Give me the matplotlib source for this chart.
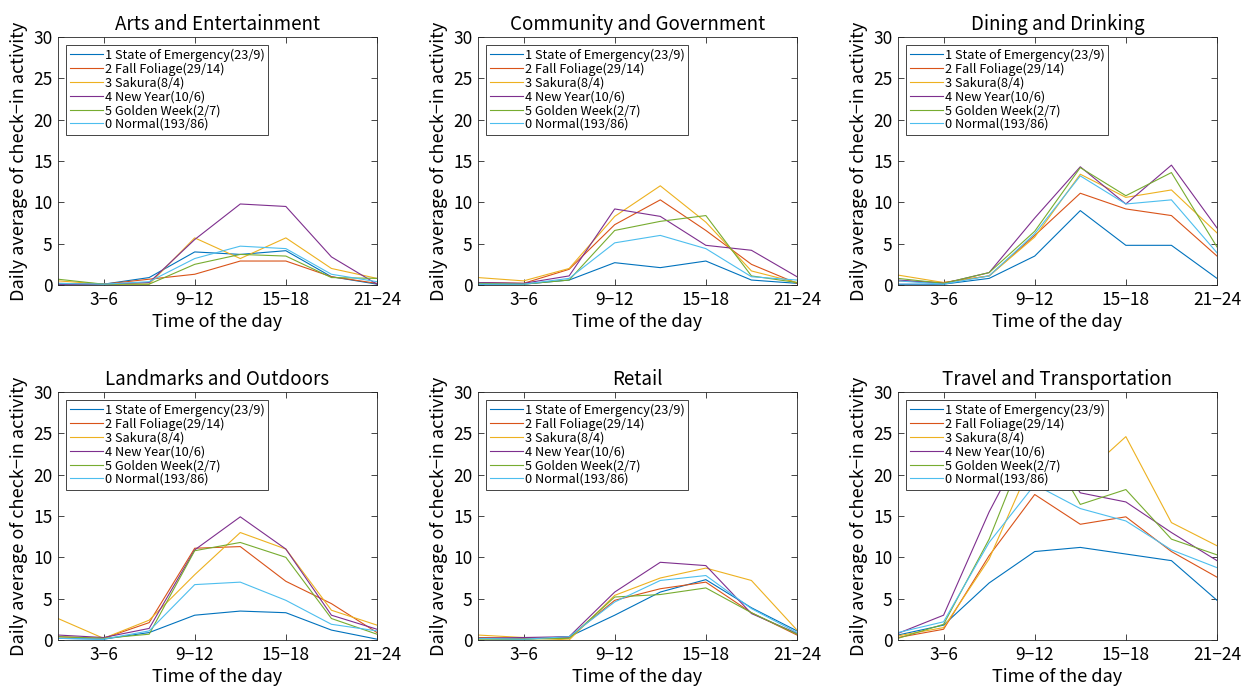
import matplotlib
matplotlib.use("Agg")
import matplotlib.pyplot as plt

plt.rcParams['font.family'] = ['Noto Sans CJK JP', 'DejaVu Sans']

titles = ["Arts and Entertainment", "Community and Government", "Dining and Drinking",
          "Landmarks and Outdoors", "Retail", "Travel and Transportation"]
series_labels = ["1 State of Emergency(23/9)", "2 Fall Foliage(29/14)", "3 Sakura(8/4)",
                 "4 New Year(10/6)", "5 Golden Week(2/7)", "0 Normal(193/86)"]
time_slots = [1, 2, 3, 4, 5, 6, 7, 8]
tick_positions = [2, 4, 6, 8]
tick_labels = ["3\u22126", "9\u221212", "15\u221218", "21\u221224"]

arts = [
    [0.1, 0.1, 0.9, 4.0, 3.7, 4.15, 1.0, 0.1],
    [0.2, 0.1, 0.7, 1.3, 2.9, 2.9, 1.0, 0.2],
    [0.5, 0.1, 0.1, 5.7, 3.2, 5.7, 2.0, 0.8],
    [0.1, 0.1, 0.3, 5.5, 9.8, 9.5, 3.4, 0.1],
    [0.7, 0.1, 0.1, 2.5, 3.7, 3.5, 0.9, 0.8],
    [0.2, 0.1, 0.4, 3.2, 4.7, 4.4, 1.3, 0.4],
]
community = [
    [0.1, 0.1, 0.6, 2.7, 2.1, 2.9, 0.6, 0.2],
    [0.3, 0.2, 1.9, 7.3, 10.3, 6.6, 2.5, 0.2],
    [0.9, 0.5, 2.0, 8.3, 12.0, 7.6, 1.7, 0.3],
    [0.3, 0.2, 1.1, 9.2, 8.3, 4.8, 4.2, 1.0],
    [0.2, 0.1, 0.6, 6.6, 7.7, 8.4, 1.1, 0.3],
    [0.1, 0.1, 0.8, 5.1, 6.0, 4.4, 1.0, 0.6],
]
dining = [
    [0.1, 0.1, 0.8, 3.5, 9.0, 4.8, 4.8, 0.8],
    [0.5, 0.3, 1.1, 6.0, 11.1, 9.2, 8.4, 3.5],
    [1.2, 0.3, 1.1, 5.8, 13.4, 10.6, 11.5, 6.3],
    [0.6, 0.2, 1.5, 8.1, 14.3, 9.8, 14.5, 6.9],
    [0.8, 0.2, 1.5, 6.5, 14.2, 10.8, 13.6, 4.6],
    [0.5, 0.1, 1.1, 6.2, 13.2, 9.8, 10.3, 3.9],
]
landmarks = [
    [0.2, 0.1, 0.9, 3.0, 3.5, 3.3, 1.2, 0.1],
    [0.4, 0.2, 2.1, 11.1, 11.3, 7.1, 4.4, 0.9],
    [2.6, 0.2, 2.4, 7.9, 13.0, 11.0, 3.6, 1.8],
    [0.6, 0.3, 1.4, 10.9, 14.9, 11.0, 3.0, 1.3],
    [0.4, 0.2, 0.7, 10.8, 11.8, 10.0, 2.6, 0.7],
    [0.2, 0.1, 1.1, 6.7, 7.0, 4.8, 1.9, 1.1],
]
retail = [
    [0.2, 0.1, 0.4, 3.0, 5.8, 7.3, 3.9, 1.1],
    [0.3, 0.2, 0.3, 4.8, 6.2, 7.0, 3.3, 0.6],
    [0.6, 0.3, 0.0, 5.4, 7.5, 8.7, 7.2, 1.2],
    [0.2, 0.3, 0.4, 5.8, 9.4, 9.0, 3.2, 0.8],
    [0.1, 0.1, 0.2, 5.2, 5.5, 6.3, 3.3, 0.7],
    [0.2, 0.1, 0.4, 4.6, 7.2, 7.8, 3.8, 0.9],
]
travel = [
    [0.6, 1.8, 6.9, 10.7, 11.2, 10.4, 9.6, 4.8],
    [0.3, 1.3, 10.2, 17.6, 14.0, 14.9, 10.7, 7.6],
    [0.5, 1.5, 9.8, 22.3, 19.6, 24.6, 14.2, 11.4],
    [0.8, 3.0, 15.5, 26.0, 17.8, 16.7, 13.0, 9.6],
    [0.2, 1.9, 12.2, 26.0, 16.4, 18.2, 12.2, 10.3],
    [0.9, 2.2, 11.8, 18.8, 15.9, 14.4, 10.9, 8.75],
]
panels = [arts, community, dining, landmarks, retail, travel]

colors = ["#0072BD", "#D95319", "#EDB120", "#7E2F8E", "#77AC30", "#4DBEEE"]
axis_color = "#262626"

W, H = 1248, 689
fig = plt.figure(figsize=(W / 100, H / 100), dpi=100)

lefts = [58, 478, 898]
tops = [37, 392]
aw, ah = 319, 248

for i, (title, data) in enumerate(zip(titles, panels)):
    r, c = divmod(i, 3)
    ax = fig.add_axes([lefts[c] / W, (H - tops[r] - ah) / H, aw / W, ah / H])
    for vals, lab, col in zip(data, series_labels, colors):
        ax.plot(time_slots, vals, color=col, lw=0.8, label=lab)
    ax.set_xlim(1, 8)
    ax.set_ylim(0, 30)
    ax.set_yticks([0, 5, 10, 15, 20, 25, 30])
    ax.set_xticks(tick_positions)
    ax.set_xticklabels(tick_labels)
    ax.tick_params(direction='in', top=True, right=True, length=4, width=0.6,
                   colors=axis_color, labelsize=12.5, labelcolor='black', pad=4)
    for sp in ax.spines.values():
        sp.set_color(axis_color)
        sp.set_linewidth(0.6)
    ax.set_title(title, fontsize=13.5, pad=5)
    ax.set_xlabel("Time of the day", fontsize=13, labelpad=3)
    ax.set_ylabel("Daily average of check\u2212in activity", fontsize=13, labelpad=4)
    leg = ax.legend(loc='upper left', fontsize=9.2, fancybox=False, framealpha=1,
                    edgecolor=axis_color, borderaxespad=0.6, handlelength=2.6,
                    handletextpad=0.15, labelspacing=0.06, borderpad=0.3)
    leg.get_frame().set_linewidth(0.6)

fig.savefig("out.png", dpi=100)
